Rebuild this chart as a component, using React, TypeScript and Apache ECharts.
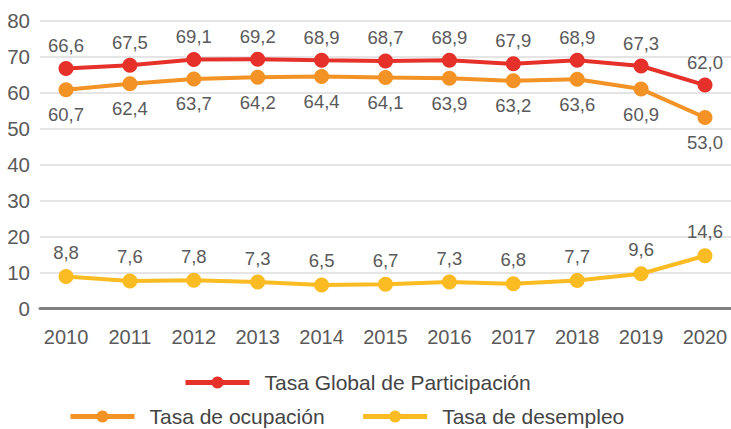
import React, { useEffect, useRef } from "react";
import * as echarts from "echarts";

const years = [2010, 2011, 2012, 2013, 2014, 2015, 2016, 2017, 2018, 2019, 2020];
const globalRate = [66.6, 67.5, 69.1, 69.2, 68.9, 68.7, 68.9, 67.9, 68.9, 67.3, 62.0];
const occupationRate = [60.7, 62.4, 63.7, 64.2, 64.4, 64.1, 63.9, 63.2, 63.6, 60.9, 53.0];
const unemploymentRate = [8.8, 7.6, 7.8, 7.3, 6.5, 6.7, 7.3, 6.8, 7.7, 9.6, 14.6];
const yTicks = [0, 10, 20, 30, 40, 50, 60, 70, 80];
const seriesNames = ["Tasa Global de Participación", "Tasa de ocupación", "Tasa de desempleo"];

const FONT = "'Liberation Sans', Arial, sans-serif";
const TEXT = "#5a5a5a";

export default function App() {
  const ref = useRef<HTMLDivElement>(null);
  useEffect(() => {
    document.body.style.margin = "0";
    if (!ref.current) return;
    const chart = echarts.init(ref.current, null, { renderer: "svg" });
    const fmt = (p: any) => Number(p.value[1]).toFixed(1).replace(".", ",");
    const mk = (name: string, vals: number[], color: string, pos: string, dist: number) => ({
      name,
      type: "line",
      data: years.map((y, i) => [y, vals[i]]),
      symbol: "circle",
      symbolSize: 15,
      lineStyle: { color, width: 4 },
      itemStyle: { color },
      label: {
        show: true,
        position: pos,
        distance: dist,
        formatter: fmt,
        color: TEXT,
        fontSize: 18.5,
        fontFamily: FONT,
      },
    });
    const legendText = { color: "#444444", fontSize: 21, fontFamily: FONT, padding: [0, 0, 0, 10] };
    chart.setOption({
      animation: false,
      grid: { left: 40, right: 0, top: 20.3, bottom: 120.7 },
      legend: [
        {
          data: [seriesNames[0]],
          top: 372,
          left: 183,
          padding: 0,
          itemWidth: 64,
          itemHeight: 15,
          lineStyle: { width: 5 },
          textStyle: legendText,
        },
        {
          data: [seriesNames[1], seriesNames[2]],
          top: 406,
          left: 68,
          padding: 0,
          itemGap: 36,
          itemWidth: 64,
          itemHeight: 15,
          lineStyle: { width: 5 },
          textStyle: legendText,
        },
      ],
      xAxis: {
        type: "value",
        min: 2009.593,
        max: 2020.407,
        axisLine: { show: true, onZero: false, lineStyle: { color: "#808080", width: 3 } },
        axisTick: { show: false },
        splitLine: { show: false },
        axisLabel: {
          customValues: years,
          formatter: (v: number) => String(Math.round(v)),
          color: TEXT,
          fontSize: 20,
          fontFamily: FONT,
          margin: 19,
        },
      },
      yAxis: {
        type: "value",
        min: yTicks[0],
        max: yTicks[yTicks.length - 1],
        interval: 10,
        axisLine: { show: false },
        axisTick: { show: false },
        splitLine: { lineStyle: { color: "#dcdcdc", width: 1.5 } },
        axisLabel: { color: TEXT, fontSize: 20.5, fontFamily: FONT, margin: 10 },
      },
      series: [
        mk(seriesNames[0], globalRate, "#e5312a", "top", 6),
        mk(seriesNames[1], occupationRate, "#f39325", "bottom", 8),
        mk(seriesNames[2], unemploymentRate, "#fbbb22", "top", 7),
      ],
    });
    return () => chart.dispose();
  }, []);
  return <div ref={ref} style={{ width: 731, height: 429 }} />;
}
